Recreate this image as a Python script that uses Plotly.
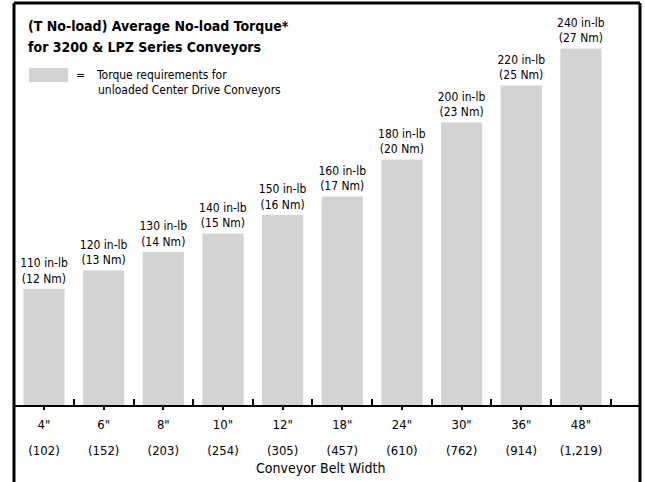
import plotly.graph_objects as go

# ---- data ----
belt_width_in = ['4"', '6"', '8"', '10"', '12"', '18"', '24"', '30"', '36"', '48"']
belt_width_mm = ["(102)", "(152)", "(203)", "(254)", "(305)", "(457)", "(610)", "(762)", "(914)", "(1,219)"]
torque_inlb = [110, 120, 130, 140, 150, 160, 180, 200, 220, 240]
torque_nm = [12, 13, 14, 15, 16, 17, 20, 23, 25, 27]

FONT = "DejaVu Sans Condensed, Liberation Sans Narrow, Arial Narrow, sans-serif"
BAR = "#d3d3d3"

labels = [f"{a} in-lb<br>({b} Nm)" for a, b in zip(torque_inlb, torque_nm)]

fig = go.Figure()
fig.add_trace(go.Bar(
    x=belt_width_in, y=torque_inlb, width=0.69,
    marker=dict(color=BAR, line=dict(width=0)),
    text=labels, textposition="outside", cliponaxis=False, constraintext="none",
    textfont=dict(family=FONT, size=12, color="black"),
    showlegend=False, hoverinfo="skip",
))
# invisible companion trace carrying the metric width row
fig.add_trace(go.Scatter(
    x=belt_width_mm, y=torque_inlb, xaxis="x2", mode="markers",
    marker=dict(opacity=0), showlegend=False, hoverinfo="skip",
))

xr = [-0.503, 9.99]
fig.update_layout(
    width=645, height=482,
    margin=dict(l=14, r=5, t=3, b=77),
    paper_bgcolor="white", plot_bgcolor="white",
    font=dict(family=FONT, color="black"),
    xaxis=dict(
        type="category", range=xr, showgrid=False, zeroline=False,
        showline=True, linecolor="black", linewidth=2,
        ticks="inside", tickson="boundaries", ticklen=6, tickwidth=2, tickcolor="black",
        tickfont=dict(family=FONT, size=13), ticklabelstandoff=6, layer="above traces",
    ),
    xaxis2=dict(
        type="category", overlaying="x", side="bottom", range=xr,
        showgrid=False, zeroline=False, showline=False,
        ticks="outside", ticklen=4, tickwidth=2, tickcolor="black",
        tickfont=dict(family=FONT, size=13), ticklabelstandoff=29,
    ),
    yaxis=dict(range=[47.2, 264.6], visible=False),
    bargap=0.3,
)

# frame (left, top, right edges)
frame = dict(color="black", width=3)
fig.add_shape(type="line", xref="paper", yref="paper", x0=0, x1=0, y0=-0.3, y1=1, line=frame, layer="above")
fig.add_shape(type="line", xref="paper", yref="paper", x0=0, x1=1, y0=1, y1=1, line=frame, layer="above")
fig.add_shape(type="line", xref="paper", yref="paper", x0=1, x1=1, y0=-0.3, y1=1, line=frame, layer="above")
# legend swatch
fig.add_shape(type="rect", xref="paper", yref="paper", x0=0.024, x1=0.0863, y0=0.8035, y1=0.838,
              line=dict(width=0), fillcolor=BAR)

def px_x(px):
    return (px - 14) / 626

def px_y(py):
    return (405 - py) / 402

fig.add_annotation(xref="paper", yref="paper", x=px_x(26), y=px_y(26), xanchor="left", yanchor="middle",
                   text="<b>(T No-load) Average No-load Torque*</b>", showarrow=False,
                   font=dict(family=FONT, size=14))
fig.add_annotation(xref="paper", yref="paper", x=px_x(26), y=px_y(47), xanchor="left", yanchor="middle",
                   text="<b>for 3200 & LPZ Series Conveyors</b>", showarrow=False,
                   font=dict(family=FONT, size=14))
fig.add_annotation(xref="paper", yref="paper", x=px_x(74), y=px_y(75), xanchor="left",
                   yanchor="middle", text="=", showarrow=False, font=dict(family=FONT, size=12))
fig.add_annotation(xref="paper", yref="paper", x=px_x(94), y=px_y(75), xanchor="left",
                   yanchor="middle", text="Torque requirements for", showarrow=False,
                   font=dict(family=FONT, size=12))
fig.add_annotation(xref="paper", yref="paper", x=px_x(96), y=px_y(90), xanchor="left",
                   yanchor="middle", text="unloaded Center Drive Conveyors", showarrow=False,
                   font=dict(family=FONT, size=12))
# axis title
fig.add_annotation(xref="paper", yref="paper", x=px_x(320), y=px_y(468), xanchor="center",
                   yanchor="middle", text="Conveyor Belt Width", showarrow=False,
                   font=dict(family=FONT, size=14))

fig.write_html("out.html", config={"displayModeBar": False},
               post_script="document.body.style.margin='0px';")
